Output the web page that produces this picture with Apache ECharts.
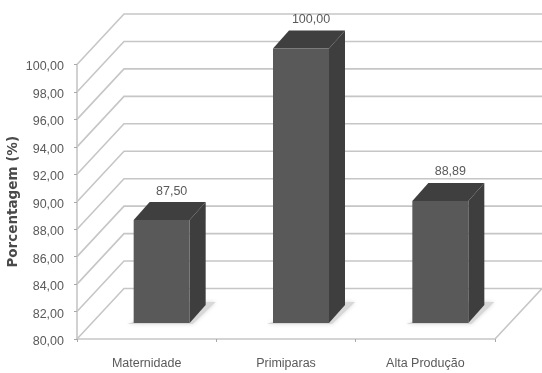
<!DOCTYPE html>
<html>
<head>
<meta charset="utf-8">
<style>html,body{margin:0;padding:0;background:#fff}#chart{width:542px;height:373px}</style>
<script src="https://cdn.jsdelivr.net/npm/echarts@6/dist/echarts.min.js"></script>
</head>
<body>
<div id="chart"></div>
<script>
var categories = ['Maternidade', 'Primiparas', 'Alta Produção'];
var percentages = [87.5, 100, 88.89];
var wallLevels = [80, 82, 84, 86, 88, 90, 92, 94, 96, 98, 100];

// Pseudo-3D offsets, in pixels
var WALL_DX = 47, WALL_DY = -50.5;
var BAR_SHIFT_X = 15, BAR_SHIFT_Y = -16;
var BAR_WIDTH = 56, BAR_DX = 16, BAR_DY = -18;
var GRID_COLOR = '#c6c6c6';
var TEXT_COLOR = '#5a5a5a';
var LABEL_FONT = '"Liberation Sans", sans-serif';

function decimal(v) { return v.toFixed(2).replace('.', ','); }

// Back wall lines running from the value axis, plus the floor outline at the base level
function renderWall(params, api) {
  var sys = params.coordSys;
  var level = api.value(1);
  var y = api.coord([0, level])[1];
  var left = sys.x, right = sys.x + sys.width;
  var lineStyle = { stroke: GRID_COLOR, lineWidth: 1.6, fill: null };
  var points = level === wallLevels[0]
    ? [[right, y], [right + WALL_DX, y + WALL_DY], [left + WALL_DX, y + WALL_DY], [left, y]]
    : [[left, y], [left + WALL_DX, y + WALL_DY], [right + WALL_DX, y + WALL_DY]];
  return { type: 'polyline', shape: { points: points }, style: lineStyle, silent: true };
}

// One box: floor shadow, front, top and side faces, and its value label
function renderBar(params, api) {
  var value = api.value(1);
  var center = api.coord([api.value(0), value])[0] + BAR_SHIFT_X;
  var top = api.coord([0, value])[1] + BAR_SHIFT_Y;
  var base = api.coord([0, wallLevels[0]])[1] + BAR_SHIFT_Y;
  var x0 = center - BAR_WIDTH / 2, x1 = center + BAR_WIDTH / 2;
  return {
    type: 'group',
    children: [
      { type: 'polygon', silent: true,
        shape: { points: [[x0 - 6, base + 1], [x1 + 3, base + 1], [x1 + 26, base - 21], [x1, base - 21]] },
        style: { fill: '#d8d8d8', shadowBlur: 4, shadowColor: '#d8d8d8' } },
      { type: 'polygon', silent: true,
        shape: { points: [[x1, top], [x1 + BAR_DX, top + BAR_DY], [x1 + BAR_DX, base + BAR_DY], [x1, base]] },
        style: { fill: '#3e3e3e' } },
      { type: 'polygon', silent: true,
        shape: { points: [[x0, top], [x0 + BAR_DX, top + BAR_DY], [x1 + BAR_DX, top + BAR_DY], [x1, top]] },
        style: { fill: '#3f3f3f' } },
      { type: 'rect', silent: true,
        shape: { x: x0, y: top, width: BAR_WIDTH, height: base - top },
        style: { fill: '#595959' } },
      { type: 'text', silent: true,
        style: {
          x: center + 10, y: top + BAR_DY - 11, text: decimal(value),
          align: 'center', verticalAlign: 'middle',
          fill: TEXT_COLOR, font: '12.5px ' + LABEL_FONT
        } }
    ]
  };
}

var chart = echarts.init(document.getElementById('chart'), null, { renderer: 'canvas' });
chart.setOption({
  animation: false,
  backgroundColor: '#ffffff',
  grid: { left: 77, right: 47, top: 64.5, bottom: 34, containLabel: false, outerBoundsMode: 'none' },
  xAxis: {
    type: 'category',
    data: categories,
    axisLine: { show: true, lineStyle: { color: GRID_COLOR, width: 1.6 } },
    axisTick: { show: true, alignWithLabel: false, length: 3, lineStyle: { color: '#a8a8a8' } },
    axisLabel: { color: TEXT_COLOR, fontFamily: LABEL_FONT, fontSize: 12.5, margin: 18, interval: 0 }
  },
  yAxis: {
    type: 'value',
    min: 80,
    max: 100,
    interval: 2,
    name: 'Porcentagem (%)',
    nameLocation: 'middle',
    nameGap: 57,
    nameMoveOverlap: false,
    nameTextStyle: { color: '#4a4a4a', fontFamily: '"DejaVu Sans", sans-serif', fontWeight: 'bold', fontSize: 13.5 },
    axisLine: { show: true, lineStyle: { color: GRID_COLOR, width: 1.6 } },
    axisTick: { show: true, length: 3, lineStyle: { color: '#a8a8a8' } },
    splitLine: { show: false },
    axisLabel: { color: TEXT_COLOR, fontFamily: LABEL_FONT, fontSize: 12.5, margin: 13, verticalAlign: 'top', lineHeight: 5, formatter: decimal }
  },
  tooltip: { show: false },
  series: [
    { type: 'custom', renderItem: renderWall, z: 1, clip: false,
      data: wallLevels.map(function (v) { return [0, v]; }) },
    { type: 'custom', renderItem: renderBar, z: 2, clip: false,
      data: percentages.map(function (v, i) { return [i, v]; }) }
  ]
});
</script>
</body>
</html>
